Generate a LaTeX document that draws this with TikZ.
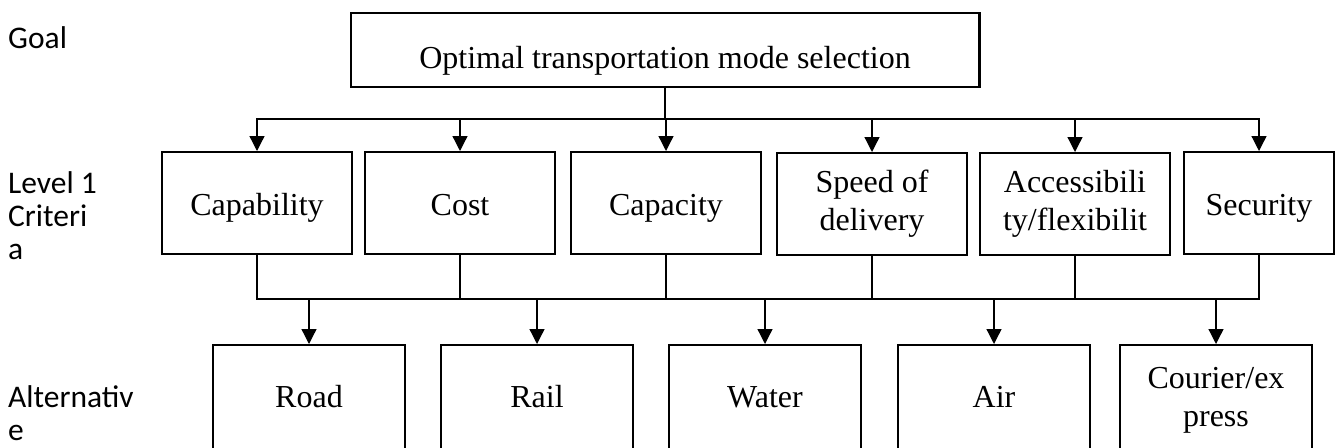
\documentclass[tikz,border=0pt]{standalone}
\usepackage{fontspec}
\setmainfont{Liberation Serif}
\newfontfamily\labfont{Carlito}
\usetikzlibrary{arrows.meta}
\begin{document}
\begin{tikzpicture}[x=1pt,y=-1pt,
  box/.style={draw, line width=2.4pt, inner sep=0pt, align=center,
    font=\fontsize{32}{38}\selectfont},
  crit/.style={box, minimum width=189.6pt, minimum height=101.6pt},
  one/.style={text height=24pt, text depth=0pt},
  alt/.style={box, minimum width=191.6pt, minimum height=109.6pt, anchor=north},
  altone/.style={text height=22pt, text depth=8pt},
  conn/.style={line width=1.3pt},
  arr/.style={conn, -{Triangle[length=15pt,width=15pt]}},
  lab/.style={font=\labfont\fontsize{31.5}{33}\selectfont, align=left,
    anchor=west, inner sep=0pt}
]
\clip (0,0) rectangle (1338,447);
% levels
\node[lab] (lgoal) at (8,38) {Goal};
\node[lab] (llevel) at (8,216) {Level 1\\Criteri\\a};
\node[lab] (lalt) at (8,413) {Alternativ\\e};
% goal
\node[box, minimum width=628.6pt, minimum height=73.6pt,
  text height=38pt, text depth=2pt] (goal) at (665,50)
  {Optimal transportation mode selection};
% criteria
\node[crit, one] (c1) at (257,203) {Capability};
\node[crit, one] (c2) at (460,203) {Cost};
\node[crit, one] (c3) at (666,203) {Capacity};
\node[crit] (c4) at (872,204) {Speed of\\delivery};
\node[crit] (c5) at (1075,204) {Accessibili\\ty/flexibilit};
\node[crit, one, minimum width=149.6pt] (c6) at (1259,203) {Security};
% alternatives
\node[alt, altone] (a1) at (309,344) {Road};
\node[alt, altone] (a2) at (537,344) {Rail};
\node[alt, altone] (a3) at (765,344) {Water};
\node[alt, altone] (a4) at (994,344) {Air};
\node[alt] (a5) at (1216,344) {Courier/ex\\press};
% bus coordinates
\coordinate (topbus) at (665,119);
\coordinate (botbus) at (665,299);
% goal to criteria
\foreach \c in {c1,c2,c3,c4,c5,c6}
  \draw[arr] (goal.south) -- (goal.south |- topbus) -| (\c.north);
% criteria to alternatives
\draw[conn] (c1.south) -- (c1.south |- botbus) -- (c6.south |- botbus) -- (c6.south);
\foreach \c in {c2,c3,c4,c5}
  \draw[conn] (\c.south) -- (\c.south |- botbus);
\foreach \a in {a1,a2,a3,a4,a5}
  \draw[arr] (\a.north |- botbus) -- (\a.north);
\end{tikzpicture}
\end{document}
